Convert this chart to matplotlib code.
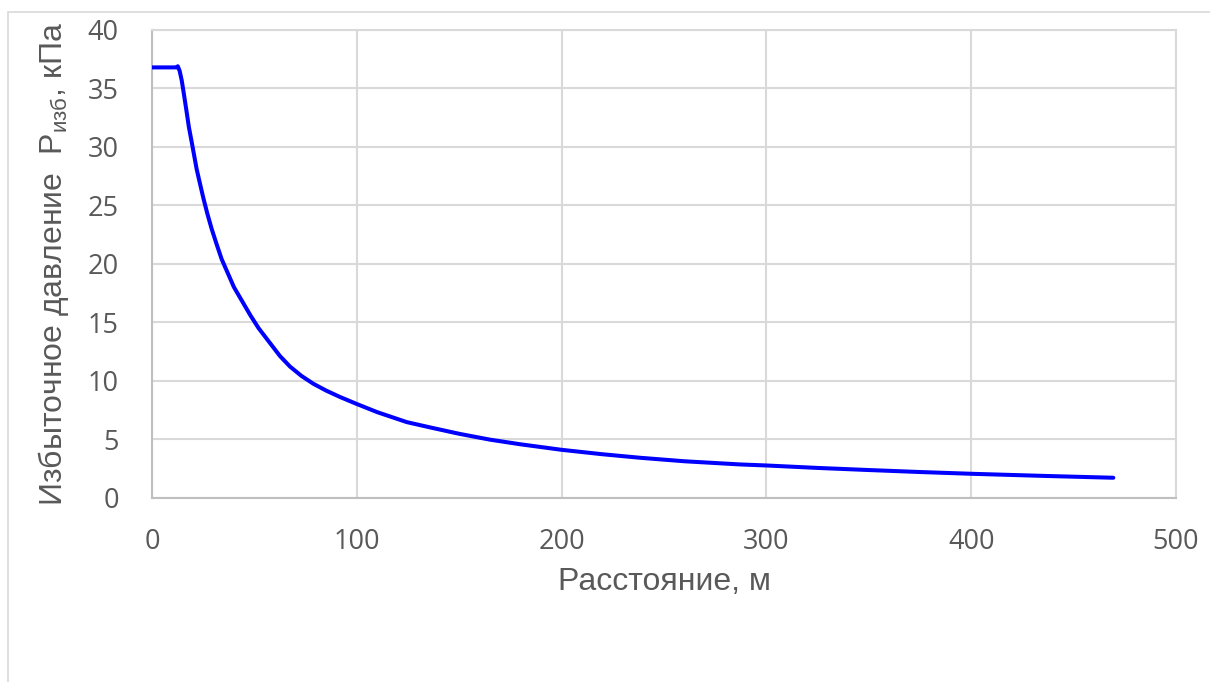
import matplotlib
matplotlib.use('Agg')
import matplotlib.pyplot as plt
from matplotlib.patches import Rectangle

# distance, m  /  overpressure, kPa
distance = [0, 6, 12.0, 12.6, 13.5, 14.5, 15.5, 16.9, 18, 19.4, 21.8, 23.5, 25.1,
            27, 29.1, 31.5, 34.0, 37, 40, 44, 48, 52, 56.8, 62.5, 67.4, 73,
            78.8, 85, 91.8, 100, 110, 124.4, 135.7, 150, 165, 180, 200, 220,
            238.3, 260, 287, 300, 325, 350, 375, 400, 435, 469.4]
pressure = [36.8, 36.8, 36.8, 36.9, 36.5, 35.7, 34.6, 33.0, 31.7, 30.4, 28.1, 26.8, 25.6,
            24.3, 23.0, 21.7, 20.4, 19.2, 18.0, 16.8, 15.6, 14.5, 13.4, 12.1, 11.2, 10.4,
            9.73, 9.15, 8.6, 8.0, 7.3, 6.45, 6.0, 5.45, 4.95, 4.55, 4.08, 3.7,
            3.4, 3.1, 2.83, 2.74, 2.53, 2.35, 2.18, 2.03, 1.85, 1.69]

x_ticks = [0, 100, 200, 300, 400, 500]
y_ticks = [0, 5, 10, 15, 20, 25, 30, 35, 40]

plt.rcParams['font.family'] = ['Open Sans', 'DejaVu Sans']
plt.rcParams['mathtext.fontset'] = 'custom'
plt.rcParams['mathtext.rm'] = 'Liberation Sans'

W, H = 1210, 682
fig = plt.figure(figsize=(W / 100, H / 100), dpi=100)

# chart area border (Excel style)
fig.patches.append(Rectangle((8 / W, -0.1), 1.2, 1.1 - 12 / H, transform=fig.transFigure,
                             fill=False, edgecolor='#d9d9d9', linewidth=1.2))

ax = fig.add_axes([152 / W, 1 - 497.5 / H, (1176 - 152) / W, (497.5 - 30) / H])
ax.plot(distance, pressure, color='#0000ff', linewidth=2.9, solid_capstyle='round',
        solid_joinstyle='round', zorder=3)

ax.set_xlim(0, 500)
ax.set_ylim(0, 40)
ax.set_xticks(x_ticks)
ax.set_yticks(y_ticks)
ax.grid(True, color='#d9d9d9', linewidth=1.5)
ax.set_axisbelow(True)
for s in ax.spines.values():
    s.set_color('#d9d9d9')
    s.set_linewidth(1.5)
ax.spines['left'].set_color('#bfbfbf')
ax.spines['bottom'].set_color('#bfbfbf')
ax.tick_params(length=0, labelsize=19.5, labelcolor='#595959')
ax.tick_params(axis='x', pad=22)
ax.tick_params(axis='y', pad=24)

ax.set_xlabel('Расстояние, м', fontsize=23, color='#595959',
              family='Liberation Sans', labelpad=8)
ax.set_ylabel('Избыточное давление  P$_{\\mathrm{изб}}$, кПа', fontsize=23,
              color='#595959', family='Liberation Sans', labelpad=12)

fig.savefig('out.png', dpi=100)
